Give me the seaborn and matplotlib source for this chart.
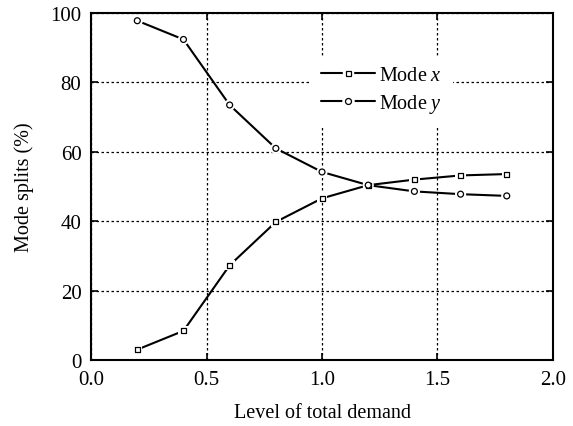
import matplotlib
matplotlib.use("Agg")
import matplotlib.pyplot as plt
from matplotlib.lines import Line2D
import seaborn as sns
import pandas as pd

demand_levels = [0.2, 0.4, 0.6, 0.8, 1.0, 1.2, 1.4, 1.6, 1.8]
mode_x_split = [3.0, 8.4, 27.3, 39.8, 46.6, 50.4, 52.0, 53.2, 53.6]
mode_y_split = [97.8, 92.4, 73.5, 61.0, 54.2, 50.4, 48.6, 47.8, 47.3]
series_names = ["Mode $x$", "Mode $y$"]
x_ticks = [0.0, 0.5, 1.0, 1.5, 2.0]
y_ticks = [0, 20, 40, 60, 80, 100]

df = pd.DataFrame({
    "demand": demand_levels * 2,
    "split": mode_x_split + mode_y_split,
    "mode": [series_names[0]] * len(demand_levels) + [series_names[1]] * len(demand_levels),
})

sns.set_style("ticks")
plt.rcParams["font.family"] = ["Liberation Serif", "DejaVu Serif"]
plt.rcParams["mathtext.fontset"] = "custom"
plt.rcParams["mathtext.it"] = "Liberation Serif:italic"
plt.rcParams["mathtext.rm"] = "Liberation Serif"
plt.rcParams["text.color"] = "black"
plt.rcParams["axes.labelcolor"] = "black"

fig = plt.figure(figsize=(5.73, 4.27), dpi=100)
ax = fig.add_axes([0.159, 0.1546, 0.806, 0.8124])

marker_map = {series_names[0]: "s", series_names[1]: "o"}
black = {series_names[0]: "black", series_names[1]: "black"}
marker_sizes = {series_names[0]: 13, series_names[1]: 18}
halo_sizes = {series_names[0]: 55, series_names[1]: 65}

# connecting lines
sns.lineplot(data=df, x="demand", y="split", hue="mode", palette=black,
             linewidth=1.5, legend=False, ax=ax, zorder=3)
# white halo so the lines stop short of each marker
sns.scatterplot(data=df, x="demand", y="split", style="mode", markers=marker_map,
                size="mode", sizes=halo_sizes, color="white", linewidth=0,
                legend=False, ax=ax, zorder=4)
# hollow markers
sns.scatterplot(data=df, x="demand", y="split", style="mode", markers=marker_map,
                size="mode", sizes=marker_sizes, facecolor="white", edgecolor="black",
                linewidth=0.9, legend=False, ax=ax, zorder=5)

ax.set_xlim(0, 2)
ax.set_ylim(0, 100)
ax.set_xticks(x_ticks)
ax.set_xticklabels([f"{v:.1f}" for v in x_ticks])
ax.set_yticks(y_ticks)
ax.set_yticklabels([str(v) for v in y_ticks])
ax.grid(True, color="black", linestyle=(0, (2, 2)), linewidth=0.9)
ax.set_axisbelow(True)
ax.tick_params(direction="in", length=5, width=1.2, top=True, right=True,
               labelsize=15, colors="black", labelcolor="black", pad=7)
for sp in ax.spines.values():
    sp.set_linewidth(1.5)
    sp.set_color("black")
    sp.set_zorder(6)

ax.set_xlabel("Level of total demand", fontsize=14.5, labelpad=10)
ax.set_ylabel("Mode splits (%)", fontsize=14.5, labelpad=12)


def legend_handle(marker, size, halo):
    line = Line2D([], [], color="black", linewidth=1.5)
    gap = Line2D([], [], linestyle="none", marker=marker, markersize=halo,
                 markerfacecolor="white", markeredgecolor="white")
    mark = Line2D([], [], linestyle="none", marker=marker, markersize=size,
                  markerfacecolor="white", markeredgecolor="black", markeredgewidth=0.9)
    return (line, gap, mark)


handles = [legend_handle("s", 3.6, 7.5), legend_handle("o", 4.3, 8.0)]
leg = ax.legend(handles, series_names, loc="upper left", bbox_to_anchor=(0.455, 0.905),
                frameon=True, framealpha=1, edgecolor="white", fancybox=False,
                fontsize=14.5, handlelength=2.65, handletextpad=0.2,
                labelspacing=0.35, borderpad=0.5)
leg.set_zorder(7)

fig.savefig("out.png", dpi=100, facecolor="white")
